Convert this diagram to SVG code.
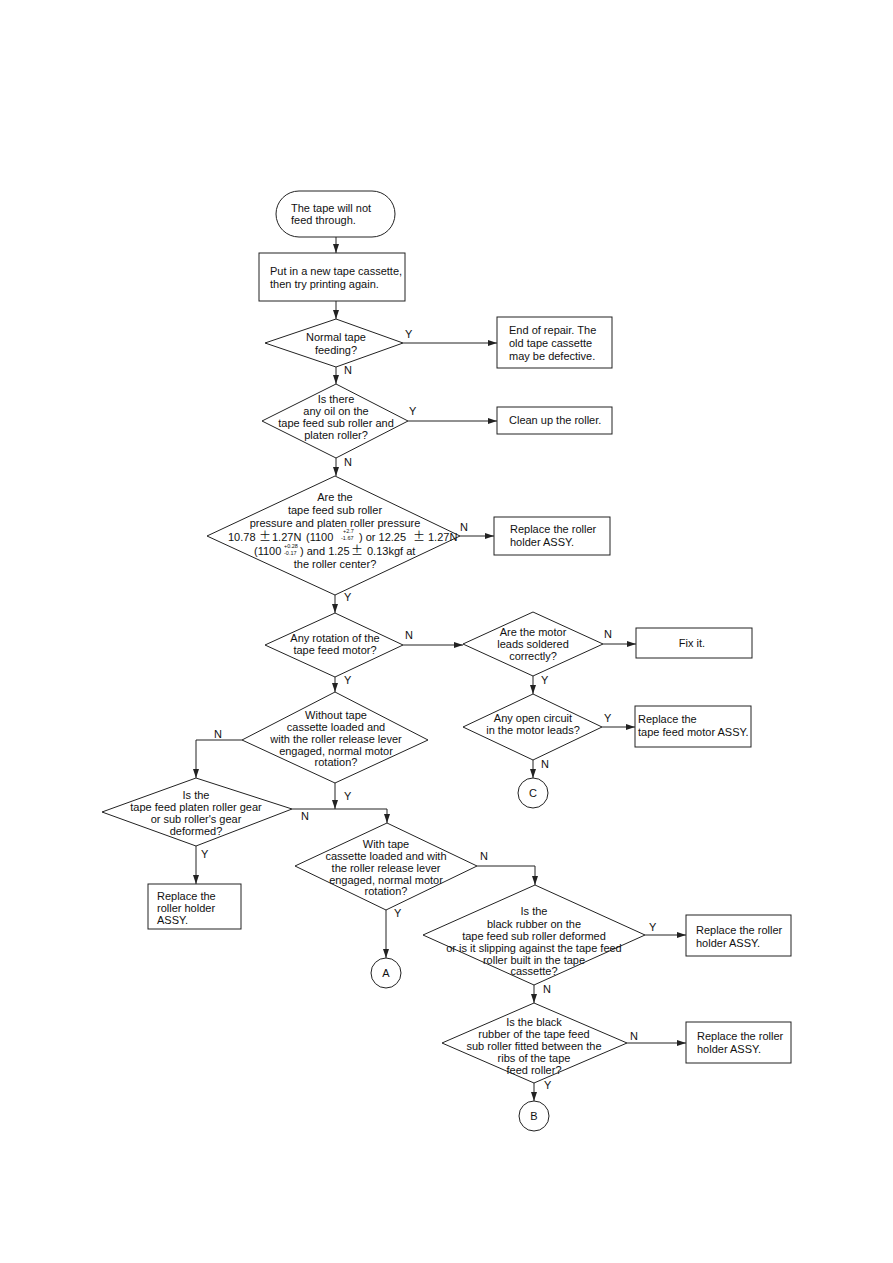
<svg xmlns="http://www.w3.org/2000/svg" width="893" height="1263" viewBox="0 0 893 1263">
<style>
.s{fill:#fff;stroke:#222;stroke-width:1}
.t{font-family:"Liberation Sans",Arial,sans-serif;font-size:11px;fill:#111}
.m{text-anchor:middle}
.sm{font-size:5.5px}
.pm{font-family:"Noto Sans CJK JP","Liberation Sans",sans-serif;font-size:12px}
.c{fill:none;stroke:#222;stroke-width:1}
</style>
<defs>
<marker id="ar" markerUnits="userSpaceOnUse" markerWidth="9" markerHeight="6" refX="9" refY="3" orient="auto">
<path d="M0,0 L9,3 L0,6 z" fill="#222"/>
</marker>
</defs>
<rect width="893" height="1263" fill="#fff"/>

<g id="connectors">
<path class="c" d="M336,237 V253" marker-end="url(#ar)"/>
<path class="c" d="M336,301 V319" marker-end="url(#ar)"/>
<path class="c" d="M403,343 H497" marker-end="url(#ar)"/>
<path class="c" d="M336,367 V384" marker-end="url(#ar)"/>
<path class="c" d="M408,421 H497" marker-end="url(#ar)"/>
<path class="c" d="M336,458 V476" marker-end="url(#ar)"/>
<path class="c" d="M460,536 H494" marker-end="url(#ar)"/>
<path class="c" d="M335,595 V613" marker-end="url(#ar)"/>
<path class="c" d="M403,645 H463" marker-end="url(#ar)"/>
<path class="c" d="M603,644 H636" marker-end="url(#ar)"/>
<path class="c" d="M533,676 V694" marker-end="url(#ar)"/>
<path class="c" d="M602,727 H635" marker-end="url(#ar)"/>
<path class="c" d="M533,760 V778" marker-end="url(#ar)"/>
<path class="c" d="M335,677 V692" marker-end="url(#ar)"/>
<path class="c" d="M242,740 H196 V778" marker-end="url(#ar)"/>
<path class="c" d="M196,846 V884" marker-end="url(#ar)"/>
<path class="c" d="M335,783 V809" marker-end="url(#ar)"/>
<path class="c" d="M292,809 H387 V823" marker-end="url(#ar)"/>
<path class="c" d="M477,866 H535 V885" marker-end="url(#ar)"/>
<path class="c" d="M386,910 V958" marker-end="url(#ar)"/>
<path class="c" d="M645,935 H686" marker-end="url(#ar)"/>
<path class="c" d="M534,985 V1003" marker-end="url(#ar)"/>
<path class="c" d="M627,1043 H686" marker-end="url(#ar)"/>
<path class="c" d="M534,1083 V1101" marker-end="url(#ar)"/>
<text class="t" x="405" y="338">Y</text>
<text class="t" x="344" y="374">N</text>
<text class="t" x="409" y="415">Y</text>
<text class="t" x="344" y="466">N</text>
<text class="t" x="460" y="531">N</text>
<text class="t" x="344" y="601">Y</text>
<text class="t" x="405" y="639">N</text>
<text class="t" x="344" y="684">Y</text>
<text class="t" x="604" y="638">N</text>
<text class="t" x="541" y="684">Y</text>
<text class="t" x="604" y="722">Y</text>
<text class="t" x="541" y="768">N</text>
<text class="t" x="214" y="738">N</text>
<text class="t" x="344" y="800">Y</text>
<text class="t" x="301" y="820">N</text>
<text class="t" x="201" y="858">Y</text>
<text class="t" x="480" y="860">N</text>
<text class="t" x="394" y="917">Y</text>
<text class="t" x="649" y="931">Y</text>
<text class="t" x="543" y="993">N</text>
<text class="t" x="630" y="1040">N</text>
<text class="t" x="544" y="1089">Y</text>
</g>

<g id="start">
<rect class="s" x="276" y="191" width="119" height="46" rx="23"/>
<text class="t" x="291" y="212">The tape will not</text>
<text class="t" x="291" y="224">feed through.</text>
</g>

<g id="newcassette">
<rect class="s" x="259" y="253" width="146" height="48"/>
<text class="t" x="270" y="275">Put in a new tape cassette,</text>
<text class="t" x="270" y="288">then try printing again.</text>
</g>

<g id="d-normal">
<polygon class="s" points="336,319 403,343 336,367 265,343"/>
<text class="t m" x="336" y="341">Normal tape</text>
<text class="t m" x="336" y="354">feeding?</text>
</g>

<g id="endrepair">
<rect class="s" x="497" y="317" width="115" height="51"/>
<text class="t" x="509" y="334">End of repair.  The</text>
<text class="t" x="509" y="347">old tape cassette</text>
<text class="t" x="509" y="360">may be defective.</text>
</g>

<g id="d-oil">
<polygon class="s" points="336,384 408,421 336,458 262,421"/>
<text class="t m" x="336" y="403">Is there</text>
<text class="t m" x="336" y="415">any oil on the</text>
<text class="t m" x="336" y="427">tape feed sub roller and</text>
<text class="t m" x="336" y="439">platen roller?</text>
</g>

<g id="clean">
<rect class="s" x="497" y="407" width="115" height="27"/>
<text class="t" x="509" y="424">Clean up the roller.</text>
</g>

<g id="d-pressure">
<polygon class="s" points="335,476 460,536 335,595 207,536"/>
<text class="t m" x="335" y="501">Are the</text>
<text class="t m" x="335" y="514">tape feed sub roller</text>
<text class="t m" x="335" y="527">pressure and platen roller pressure</text>
<text class="t" x="228" y="541">10.78</text>
<text class="t pm" x="259" y="541">±</text>
<text class="t" x="272" y="541">1.27N</text>
<text class="t" x="306" y="541">(1100</text>
<text class="t sm" x="343" y="533">+2.7</text>
<text class="t sm" x="341" y="540">-1.67</text>
<text class="t" x="359" y="541">) or 12.25</text>
<text class="t pm" x="413" y="541">±</text>
<text class="t" x="428" y="541">1.27N</text>
<text class="t" x="254" y="555">(1100</text>
<text class="t sm" x="284" y="548">+0.28</text>
<text class="t sm" x="284" y="555">-0.17</text>
<text class="t" x="300" y="555">) and 1.25</text>
<text class="t pm" x="351" y="555">±</text>
<text class="t" x="367" y="555">0.13kgf at</text>
<text class="t m" x="335" y="568">the roller center?</text>
</g>

<g id="replace1">
<rect class="s" x="494" y="517" width="116" height="38"/>
<text class="t" x="510" y="533">Replace the roller</text>
<text class="t" x="510" y="546">holder ASSY.</text>
</g>

<g id="d-rotation">
<polygon class="s" points="335,613 403,645 335,677 265,645"/>
<text class="t m" x="335" y="642">Any rotation of the</text>
<text class="t m" x="335" y="654">tape feed motor?</text>
</g>

<g id="d-soldered">
<polygon class="s" points="533,612 603,644 533,676 463,644"/>
<text class="t m" x="533" y="636">Are the motor</text>
<text class="t m" x="533" y="648">leads soldered</text>
<text class="t m" x="533" y="660">correctly?</text>
</g>

<g id="fixit">
<rect class="s" x="636" y="628" width="116" height="30"/>
<text class="t m" x="692" y="647">Fix it.</text>
</g>

<g id="d-open">
<polygon class="s" points="533,694 602,727 533,760 463,727"/>
<text class="t m" x="533" y="722">Any open circuit</text>
<text class="t m" x="533" y="734">in the motor leads?</text>
</g>

<g id="replacemotor">
<rect class="s" x="635" y="706" width="116" height="41"/>
<text class="t" x="638" y="723">Replace the</text>
<text class="t" x="638" y="736">tape feed motor ASSY.</text>
</g>

<g id="conn-c">
<circle class="s" cx="533" cy="793" r="15"/>
<text class="t m" x="533" y="797">C</text>
</g>

<g id="d-without">
<polygon class="s" points="335,692 428,740 335,783 242,740"/>
<text class="t m" x="336" y="719">Without tape</text>
<text class="t m" x="336" y="731">cassette loaded and</text>
<text class="t m" x="336" y="743">with the roller release lever</text>
<text class="t m" x="336" y="755">engaged,  normal motor</text>
<text class="t m" x="336" y="766">rotation?</text>
</g>

<g id="d-gear">
<polygon class="s" points="196,778 292,809 196,846 102,812"/>
<text class="t m" x="196" y="799">Is the</text>
<text class="t m" x="196" y="811">tape feed platen roller gear</text>
<text class="t m" x="196" y="823">or sub roller's gear</text>
<text class="t m" x="196" y="835">deformed?</text>
</g>

<g id="replace2">
<rect class="s" x="148" y="884" width="93" height="45"/>
<text class="t" x="157" y="900">Replace the</text>
<text class="t" x="157" y="912">roller holder</text>
<text class="t" x="157" y="924">ASSY.</text>
</g>

<g id="d-with">
<polygon class="s" points="387,823 477,866 386,910 295,866"/>
<text class="t m" x="386" y="848">With tape</text>
<text class="t m" x="386" y="860">cassette loaded and with</text>
<text class="t m" x="386" y="872">the roller release lever</text>
<text class="t m" x="386" y="884">engaged, normal motor</text>
<text class="t m" x="386" y="895">rotation?</text>
</g>

<g id="conn-a">
<circle class="s" cx="386" cy="973" r="15"/>
<text class="t m" x="386" y="977">A</text>
</g>

<g id="d-rubber">
<polygon class="s" points="535,885 645,935 534,985 423,935"/>
<text class="t m" x="534" y="915">Is the</text>
<text class="t m" x="534" y="928">black rubber on the</text>
<text class="t m" x="534" y="940">tape feed sub roller deformed</text>
<text class="t m" x="534" y="952">or is it slipping against the tape feed</text>
<text class="t m" x="534" y="964">roller built in the tape</text>
<text class="t m" x="534" y="975">cassette?</text>
</g>

<g id="replace3">
<rect class="s" x="686" y="915" width="105" height="41"/>
<text class="t" x="696" y="934">Replace the roller</text>
<text class="t" x="696" y="947">holder ASSY.</text>
</g>

<g id="d-ribs">
<polygon class="s" points="534,1003 627,1043 534,1083 442,1043"/>
<text class="t m" x="534" y="1026">Is the black</text>
<text class="t m" x="534" y="1038">rubber of the tape feed</text>
<text class="t m" x="534" y="1050">sub roller fitted between the</text>
<text class="t m" x="534" y="1062">ribs of the tape</text>
<text class="t m" x="534" y="1074">feed roller?</text>
</g>

<g id="replace4">
<rect class="s" x="686" y="1022" width="105" height="41"/>
<text class="t" x="697" y="1040">Replace the roller</text>
<text class="t" x="697" y="1053">holder ASSY.</text>
</g>

<g id="conn-b">
<circle class="s" cx="534" cy="1116" r="15"/>
<text class="t m" x="534" y="1120">B</text>
</g>
</svg>
